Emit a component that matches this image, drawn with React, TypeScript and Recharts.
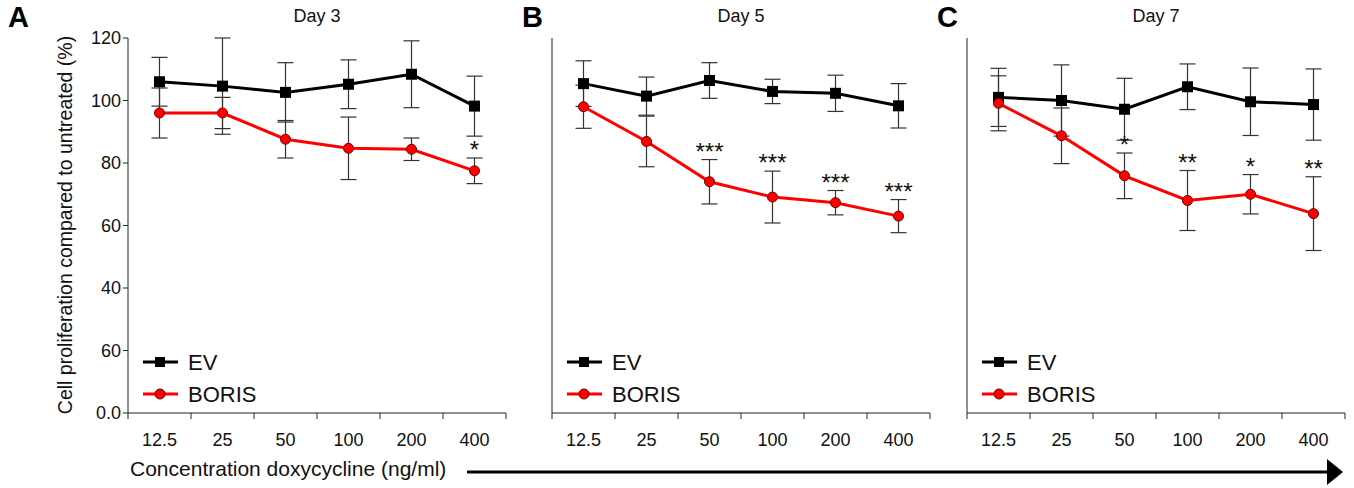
import React from 'react';
import { LineChart, Line, XAxis, YAxis, ErrorBar, LabelList } from 'recharts';

// doses on the x axis
const doses = ['12.5', '25', '50', '100', '200', '400'];
const yTicks = [0, 20, 40, 60, 80, 100, 120];
const yTickLabels = ['0.0', '60', '40', '60', '80', '100', '120'];
const seriesNames = ['EV', 'BORIS'];

// Day 3
const ev3 = [106, 104.6, 102.6, 105.2, 108.4, 98.2];
const ev3Err = [7.8, 15.4, 9.5, 7.8, 10.7, 9.6];
const boris3 = [96, 96, 87.6, 84.7, 84.4, 77.5];
const boris3Err = [8, 5, 6, 10, 3.6, 4.1];
const sig3 = ['', '', '', '', '', '*'];

// Day 5
const ev5 = [105.4, 101.4, 106.4, 102.9, 102.3, 98.3];
const ev5Err = [7.3, 6.1, 5.7, 3.9, 5.8, 7.1];
const boris5 = [98, 86.9, 74, 69.1, 67.3, 63];
const boris5Err = [6.9, 8.1, 7.1, 8.3, 3.9, 5.3];
const sig5 = ['', '', '***', '***', '***', '***'];

// Day 7
const ev7 = [101, 100, 97.2, 104.4, 99.6, 98.7];
const ev7Err = [9.3, 11.4, 9.9, 7.3, 10.8, 11.4];
const boris7 = [99.1, 88.7, 75.9, 68, 70, 63.8];
const boris7Err = [8.8, 8.9, 7.3, 9.6, 6.3, 11.8];
const sig7 = ['', '', '*', '**', '*', '**'];

const FONT = '"Liberation Sans", Arial, sans-serif';
const AXIS = '#222';
const RED = '#ff0000';

const build = (ev: number[], evErr: number[], b: number[], bErr: number[], sig: string[]) =>
  doses.map((d, i) => ({
    x: i + 0.5,
    ev: ev[i],
    evErr: evErr[i],
    boris: b[i],
    borisErr: bErr[i],
    top: b[i] + bErr[i],
    sig: sig[i],
  }));

const XTick = (props: any) => {
  const { x, y, payload } = props;
  const v = payload.value as number;
  if (Number.isInteger(v)) {
    return <line x1={x} x2={x} y1={y - 8} y2={y - 2} stroke={AXIS} strokeWidth={1} />;
  }
  return (
    <text x={x} y={y + 25} textAnchor="middle" fontSize={18} fontFamily={FONT} fill="#111">
      {doses[Math.floor(v)]}
    </text>
  );
};

const Square = (props: any) => {
  const { cx, cy, index } = props;
  return <rect key={`sq-${index}`} x={cx - 5.5} y={cy - 5.5} width={11} height={11} fill="#000" />;
};

interface PanelProps {
  letter: string;
  title: string;
  left: number;
  width: number;
  yWidth: number;
  marginLeft: number;
  marginRight: number;
  showYLabels: boolean;
  data: ReturnType<typeof build>;
}

function Legend({ plotLeft }: { plotLeft: number }) {
  return (
    <svg style={{ position: 'absolute', left: plotLeft + 10, top: 345 }} width={140} height={64}>
      <line x1={5} x2={40} y1={17} y2={17} stroke="#000" strokeWidth={3} />
      <rect x={17} y={12} width={10} height={10} fill="#000" />
      <text x={50} y={25} fontSize={22} fontFamily={FONT} fill="#111">{seriesNames[0]}</text>
      <line x1={5} x2={40} y1={49} y2={49} stroke={RED} strokeWidth={3} />
      <circle cx={22} cy={49} r={5} fill={RED} stroke="#6b0000" strokeWidth={1} />
      <text x={50} y={57} fontSize={22} fontFamily={FONT} fill="#111">{seriesNames[1]}</text>
    </svg>
  );
}

function Panel({ letter, title, left, width, yWidth, marginLeft, marginRight, showYLabels, data }: PanelProps) {
  const plotLeft = marginLeft + yWidth;
  const plotW = width - plotLeft - marginRight;
  return (
    <div style={{ position: 'absolute', left, top: 0, width, height: 488 }}>
      <LineChart
        width={width}
        height={488}
        data={data}
        margin={{ top: 38, right: marginRight, bottom: 45, left: marginLeft }}
      >
        <XAxis
          dataKey="x"
          type="number"
          domain={[0, 6]}
          ticks={[0, 0.5, 1, 1.5, 2, 2.5, 3, 3.5, 4, 4.5, 5, 5.5, 6]}
          interval={0}
          tick={<XTick />}
          tickLine={false}
          axisLine={{ stroke: AXIS }}
          height={30}
        />
        <YAxis
          type="number"
          domain={[0, 120]}
          ticks={yTicks}
          interval={0}
          width={yWidth}
          allowDataOverflow
          axisLine={{ stroke: AXIS }}
          tickLine={{ stroke: AXIS }}
          tickSize={5}
          tick={showYLabels ? { fontSize: 18, fontFamily: FONT, fill: '#111' } : false}
          tickFormatter={(v: number) => yTickLabels[yTicks.indexOf(v)]}
        />
        <Line
          dataKey="ev"
          stroke="#000"
          strokeWidth={3}
          dot={<Square />}
          activeDot={false}
          isAnimationActive={false}
        >
          <ErrorBar dataKey="evErr" width={8} stroke="#333" strokeWidth={1.2} direction="y" />
        </Line>
        <Line
          dataKey="boris"
          stroke={RED}
          strokeWidth={3}
          dot={{ r: 5, fill: RED, stroke: '#6b0000', strokeWidth: 1 }}
          activeDot={false}
          isAnimationActive={false}
        >
          <ErrorBar dataKey="borisErr" width={8} stroke="#333" strokeWidth={1.2} direction="y" />
        </Line>
        <Line dataKey="top" stroke="none" dot={false} activeDot={false} isAnimationActive={false}>
          <LabelList dataKey="sig" position="top" offset={0} fontSize={24} fontFamily={FONT} fill="#111" />
        </Line>
      </LineChart>
      <div
        style={{
          position: 'absolute',
          left: plotLeft,
          width: plotW,
          top: 6,
          textAlign: 'center',
          fontFamily: FONT,
          fontSize: 18,
          color: '#111',
        }}
      >
        {title}
      </div>
      <Legend plotLeft={plotLeft} />
      <div
        style={{
          position: 'absolute',
          left: letter === 'A' ? 8 : 2,
          top: 1,
          fontFamily: FONT,
          fontWeight: 'bold',
          fontSize: 29,
          color: '#000',
        }}
      >
        {letter}
      </div>
    </div>
  );
}

export default function App() {
  return (
    <div style={{ position: 'absolute', left: 0, top: 0, width: 1354, height: 488, background: '#fff', overflow: 'hidden' }}>
      <Panel letter="A" title="Day 3" left={0} width={520} yWidth={100} marginLeft={28} marginRight={14} showYLabels data={build(ev3, ev3Err, boris3, boris3Err, sig3)} />
      <Panel letter="B" title="Day 5" left={520} width={430} yWidth={20} marginLeft={12} marginRight={20} showYLabels={false} data={build(ev5, ev5Err, boris5, boris5Err, sig5)} />
      <Panel letter="C" title="Day 7" left={935} width={419} yWidth={20} marginLeft={12} marginRight={9} showYLabels={false} data={build(ev7, ev7Err, boris7, boris7Err, sig7)} />
      <div
        style={{
          position: 'absolute',
          left: 65,
          top: 225,
          transform: 'translate(-50%, -50%) rotate(-90deg)',
          whiteSpace: 'nowrap',
          fontFamily: FONT,
          fontSize: 19.5,
          color: '#111',
        }}
      >
        Cell proliferation compared to untreated (%)
      </div>
      <div
        style={{
          position: 'absolute',
          left: 130,
          top: 457,
          whiteSpace: 'nowrap',
          fontFamily: FONT,
          fontSize: 21,
          color: '#111',
        }}
      >
        Concentration doxycycline (ng/ml)
      </div>
      <svg style={{ position: 'absolute', left: 0, top: 0 }} width={1354} height={488}>
        <line x1={467} x2={1330} y1={472} y2={472} stroke="#000" strokeWidth={3} />
        <polygon points="1327,459 1343,472 1327,485" fill="#000" />
      </svg>
    </div>
  );
}
